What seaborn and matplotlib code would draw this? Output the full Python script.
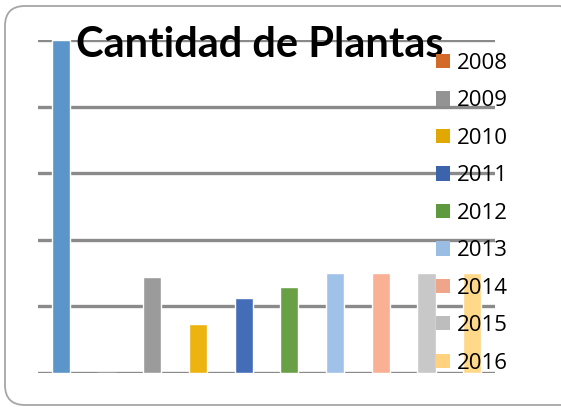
import pandas as pd
import matplotlib
matplotlib.use("Agg")
import matplotlib.pyplot as plt
import seaborn as sns
from matplotlib.patches import FancyBboxPatch, Patch

# Datos (escala de la cuadricula: 1 unidad por linea)
anios = ["2007", "2008", "2009", "2010", "2011", "2012", "2013", "2014", "2015", "2016"]
plantas = [5.0, 0.0, 1.44, 0.73, 1.12, 1.29, 1.5, 1.5, 1.5, 1.5]
colores = ["#5B95CA", "#D46A2A", "#9B9B9B", "#EDB30F", "#446DB8",
           "#6AA045", "#A1C2E8", "#F9B094", "#C8C8C8", "#FFD88A"]
colores_leyenda = ["#5B95CA", "#D46A2A", "#939393", "#E0A800", "#3B64AD",
                   "#5E9A3D", "#9ABDE3", "#EEA58A", "#BDBDBD", "#FFD27F"]

df = pd.DataFrame({"anio": anios, "plantas": plantas})

sns.set_style("white")
fig = plt.figure(figsize=(5.61, 4.08), dpi=100)
ax = fig.add_axes([38 / 561, 1 - 373 / 408, (495 - 38) / 561, (373 - 40) / 408])

sns.barplot(data=df, x="anio", y="plantas", hue="anio", order=anios,
            palette=dict(zip(anios, colores)), width=0.4, legend=False,
            saturation=1, ax=ax)

ax.set_xlim(-0.5, 9.5)
ax.set_ylim(0, 5)
ax.set_yticks([0, 1, 2, 3, 4, 5])
ax.yaxis.grid(True, color="#8a8a8a", linewidth=2.4)
ax.set_axisbelow(True)
ax.tick_params(left=False, bottom=False, labelleft=False, labelbottom=False)
ax.set_xlabel("")
ax.set_ylabel("")
for s in ax.spines.values():
    s.set_visible(False)

# borde redondeado del area del grafico
marco = FancyBboxPatch((0.05, 0.03), 5.75, 3.99,
                       boxstyle="round,pad=0,rounding_size=0.2",
                       transform=fig.dpi_scale_trans, facecolor="none",
                       edgecolor="#a6a6a6", linewidth=1.3)
fig.patches.append(marco)

fig.text(260 / 561, 1 - 57 / 408, "Cantidad de Plantas", ha="center", va="baseline",
         fontsize=30, fontweight="bold", color="black", family="Lato", zorder=5)

handles = [Patch(facecolor=c, edgecolor="none") for c in colores_leyenda[1:]]
leg = fig.legend(handles, anios[1:], loc="upper left",
                 bbox_to_anchor=(436 / 561, 1 - 53 / 408), frameon=False,
                 prop={"family": "Open Sans", "size": 16},
                 handlelength=0.62, handleheight=0.62, handletextpad=0.3,
                 labelspacing=0.74, borderaxespad=0, borderpad=0)
for t in leg.get_texts():
    t.set_color("black")

fig.savefig("out.png", dpi=100)
